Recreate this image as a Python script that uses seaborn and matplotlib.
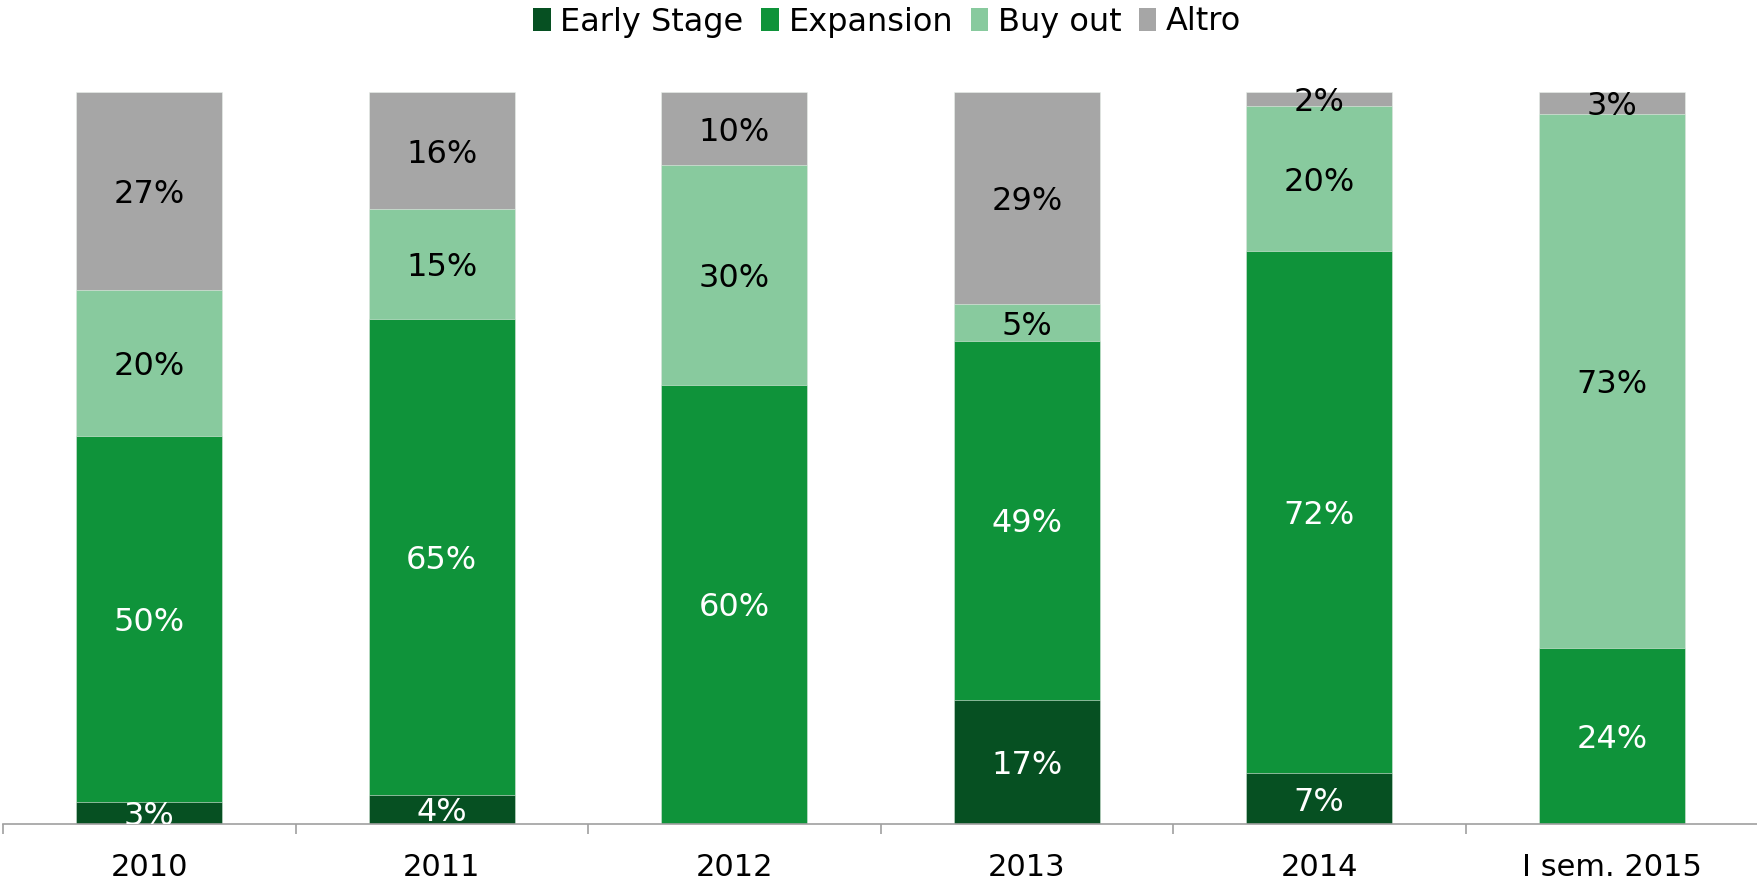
import numpy as np
import pandas as pd
import matplotlib
matplotlib.use("Agg")
import matplotlib.pyplot as plt
import seaborn as sns
from matplotlib.patches import Patch

# Data (percent shares per period)
periods = ["2010", "2011", "2012", "2013", "2014", "I sem. 2015"]
series = ["Early Stage", "Expansion", "Buy out", "Altro"]
early_stage = [3, 4, 0, 17, 7, 0]
expansion = [50, 65, 60, 49, 72, 24]
buy_out = [20, 15, 30, 5, 20, 73]
altro = [27, 16, 10, 29, 2, 3]

colors = ["#065022", "#0F933A", "#88CA9E", "#A6A6A6"]
label_colors = ["white", "white", "black", "black"]

sns.set_style("white")
plt.rcParams['font.family'] = ['DejaVu Sans']
plt.rcParams['text.color'] = 'black'
plt.rcParams['xtick.color'] = 'black'

values = np.array([early_stage, expansion, buy_out, altro], dtype=float)
# bars fill to 100%: scale each column by its total (rounded labels may not sum to 100)
shares = values / values.sum(axis=0) * 100
cum = shares.cumsum(axis=0)

fig = plt.figure(figsize=(17.57, 8.9), dpi=100)
ax = fig.add_axes([3 / 1757, 66 / 890, 1755 / 1757, 732 / 890])

# stacked bars: draw cumulative totals from top series down so each overlays the next
for i in reversed(range(len(series))):
    df = pd.DataFrame({"period": periods, "value": cum[i]})
    sns.barplot(data=df, x="period", y="value", color=colors[i], width=0.5,
                saturation=1, edgecolor="#E8F0EA", linewidth=0.4, ax=ax)

# segment labels (only the bottom series gets cut by the axis line)
for i in range(len(series)):
    for j in range(len(periods)):
        if values[i, j] <= 0:
            continue
        y = cum[i, j] - shares[i, j] / 2
        ax.text(j, y, f"{int(values[i, j])}%", ha="center", va="center_baseline",
                fontsize=23, color=label_colors[i], clip_on=(i == 0))

ax.set_ylim(0, 100)
ax.set_xlim(-0.5, 5.5)
ax.set_xlabel("")
ax.set_ylabel("")
ax.set_yticks([])
for s in ["top", "left", "right"]:
    ax.spines[s].set_visible(False)
ax.spines["bottom"].set_color("#A0A0A0")
ax.spines["bottom"].set_linewidth(1.2)

# tick marks between categories, labels at the centres
ax.set_xticks(np.arange(-0.5, 6, 1.0))
ax.set_xticklabels([])
ax.tick_params(axis="x", which="major", direction="out", length=7.5,
               width=1.2, color="#A0A0A0", bottom=True)
ax.set_xticks(np.arange(len(periods)), minor=True)
ax.set_xticklabels(periods, minor=True, fontsize=22)
ax.tick_params(axis="x", which="minor", length=0, pad=21, labelcolor="black")

handles = [Patch(facecolor=c, edgecolor="none") for c in colors]
fig.legend(handles, series, loc="upper center", bbox_to_anchor=(0.505, 1.025),
           ncol=4, frameon=False, fontsize=23, handlelength=0.55,
           handleheight=0.75, handletextpad=0.3, columnspacing=0.55,
           labelcolor="black")

fig.savefig("out.png", dpi=100)
